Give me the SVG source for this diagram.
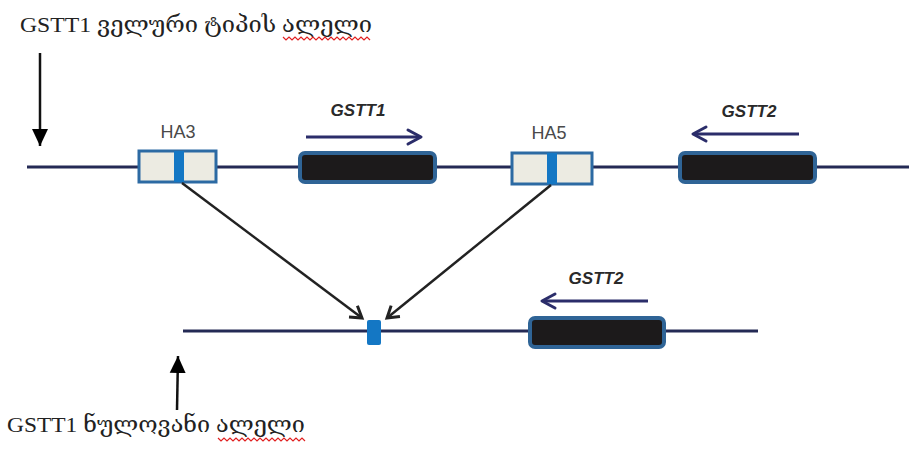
<svg xmlns="http://www.w3.org/2000/svg" width="909" height="455" viewBox="0 0 909 455">
<style>
.chrom{stroke:#242a55;stroke-width:3;fill:none}
.gene{fill:#1c1a1b;stroke:#2f6496;stroke-width:4}
.ha{fill:#ecebe2;stroke:#2c6aa3;stroke-width:3}
.bar{fill:#1477c4}
.dir{stroke:#2b2d6a;stroke-width:3;fill:none}
.head{stroke:#2b2d6a;stroke-width:3;fill:none;stroke-linecap:round;stroke-linejoin:round}
.lbl{font-family:"Liberation Sans",Arial,sans-serif;font-size:18px;fill:#4a4a4a}
.glbl{font-family:"Liberation Sans",Arial,sans-serif;font-size:17px;font-weight:bold;font-style:italic;fill:#2a2a2a}
.cap{font-family:"Liberation Serif","DejaVu Serif",serif;font-size:22px;fill:#222}
.conn{stroke:#222;stroke-width:2.5;fill:none}
.call{stroke:#111;stroke-width:2.5;fill:none}
.wave{stroke:#e02020;stroke-width:1.2;fill:none}
</style>
<defs>
<marker id="open" markerWidth="18" markerHeight="18" refX="13" refY="9" orient="auto" markerUnits="userSpaceOnUse">
<path d="M2,2 L13,9 L2,16" stroke="#222" stroke-width="3" fill="none" stroke-linejoin="miter"/>
</marker>
<marker id="solid" markerWidth="18" markerHeight="18" refX="17" refY="9" orient="auto" markerUnits="userSpaceOnUse">
<path d="M0,1 L17,9 L0,17 Z" fill="#000"/>
</marker>
</defs>

<g id="wildtype-chromosome">
<line class="chrom" x1="27" y1="167" x2="909" y2="167"/>
</g>
<g id="null-chromosome">
<line class="chrom" x1="183" y1="331" x2="758" y2="331"/>
</g>

<g id="HA3">
<rect class="ha" x="139" y="151" width="77" height="31"/>
<rect class="bar" x="174" y="151" width="10" height="31"/>
<text class="lbl" x="178" y="138" text-anchor="middle">HA3</text>
</g>

<g id="GSTT1">
<rect class="gene" x="300" y="153" width="135" height="29" rx="5"/>
<line class="dir" x1="306" y1="137" x2="420" y2="137"/>
<path class="head" d="M408,130 L421,137 L408,144"/>
<text class="glbl" x="358" y="116" text-anchor="middle">GSTT1</text>
</g>

<g id="HA5">
<rect class="ha" x="512" y="153" width="80" height="31"/>
<rect class="bar" x="547" y="153" width="10" height="31"/>
<text class="lbl" x="549" y="139" text-anchor="middle">HA5</text>
</g>

<g id="GSTT2-top">
<rect class="gene" x="680" y="153" width="135" height="29" rx="5"/>
<line class="dir" x1="694" y1="134" x2="799" y2="134"/>
<path class="head" d="M706,127 L693,134 L706,141"/>
<text class="glbl" x="749" y="117" text-anchor="middle">GSTT2</text>
</g>

<g id="deletion-site">
<rect class="bar" x="367" y="320" width="14" height="25" rx="2"/>
</g>

<g id="GSTT2-null">
<rect class="gene" x="530" y="318" width="134" height="29" rx="5"/>
<line class="dir" x1="543" y1="301" x2="648" y2="301"/>
<path class="head" d="M555,294 L542,301 L555,308"/>
<text class="glbl" x="596" y="284" text-anchor="middle">GSTT2</text>
</g>

<g id="connectors">
<line class="conn" x1="182" y1="183" x2="362" y2="318" marker-end="url(#open)"/>
<line class="conn" x1="551" y1="185" x2="387" y2="318" marker-end="url(#open)"/>
<line class="call" x1="40" y1="53" x2="40" y2="146" marker-end="url(#solid)"/>
<line class="call" x1="177" y1="410" x2="178" y2="356" marker-end="url(#solid)"/>
</g>

<g id="label-wildtype">
<text class="cap" x="20" y="32" textLength="352" lengthAdjust="spacingAndGlyphs">GSTT1 ველური ტიპის ალელი</text>
<path class="wave" d="M283,37 l3,3 l3,-3 l3,3 l3,-3 l3,3 l3,-3 l3,3 l3,-3 l3,3 l3,-3 l3,3 l3,-3 l3,3 l3,-3 l3,3 l3,-3 l3,3 l3,-3 l3,3 l3,-3 l3,3 l3,-3 l3,3 l3,-3 l3,3 l3,-3 l3,3 l3,-3 l3,3"/>
</g>
<g id="label-null">
<text class="cap" x="7" y="432" textLength="298" lengthAdjust="spacingAndGlyphs">GSTT1 ნულოვანი ალელი</text>
<path class="wave" d="M218,438 l3,3 l3,-3 l3,3 l3,-3 l3,3 l3,-3 l3,3 l3,-3 l3,3 l3,-3 l3,3 l3,-3 l3,3 l3,-3 l3,3 l3,-3 l3,3 l3,-3 l3,3 l3,-3 l3,3 l3,-3 l3,3 l3,-3 l3,3 l3,-3 l3,3 l3,-3 l3,3"/>
</g>
</svg>
